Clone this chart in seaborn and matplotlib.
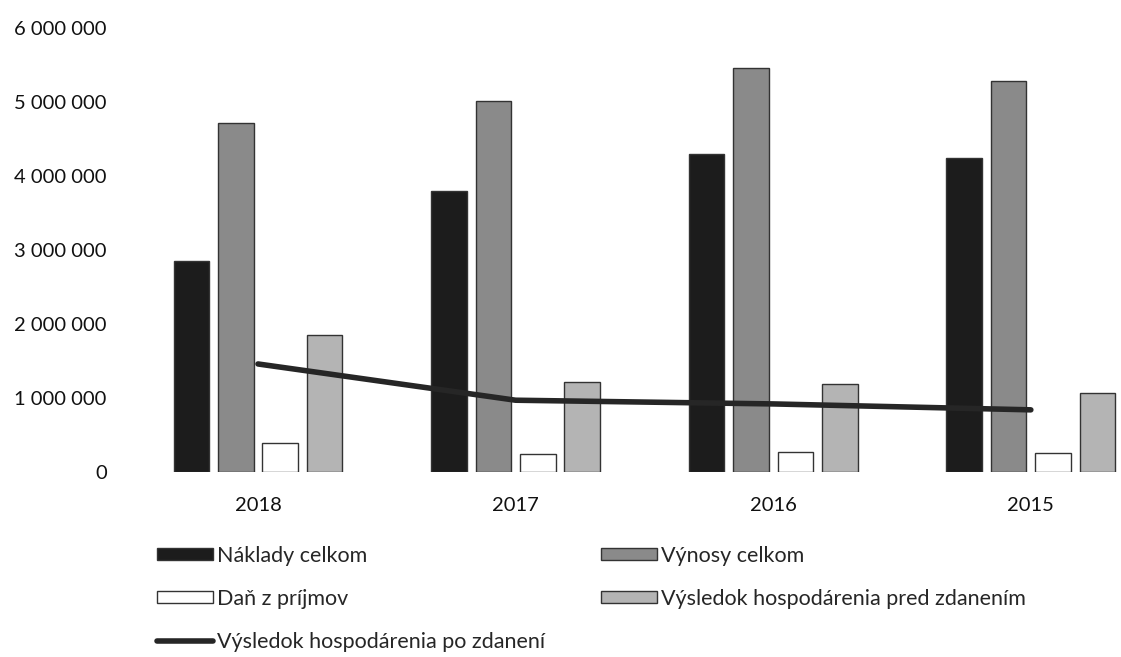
import numpy as np
import pandas as pd
from matplotlib import pyplot as plt
from matplotlib.ticker import FuncFormatter
import seaborn as sns

roky = ['2018', '2017', '2016', '2015']
naklady = [2850000, 3800000, 4300000, 4240000]
vynosy = [4720000, 5010000, 5460000, 5280000]
dan = [390000, 240000, 270000, 260000]
pred_zdanenim = [1850000, 1220000, 1190000, 1070000]
po_zdaneni = [1460000, 970000, 920000, 840000]

nazvy = ['Náklady celkom', 'Výnosy celkom', 'Daň z príjmov',
         'Výsledok hospodárenia pred zdanením']
linia = 'Výsledok hospodárenia po zdanení'

farby = ['#1c1c1c', '#8a8a8a', '#ffffff', '#b4b4b4']

df = pd.DataFrame({
    'rok': roky * 4,
    'hodnota': naklady + vynosy + dan + pred_zdanenim,
    'ukazovatel': [n for n in nazvy for _ in roky],
})

sns.set_theme(style='white')
plt.rcParams['font.family'] = ['Lato', 'DejaVu Sans']

fig = plt.figure(figsize=(11.21, 6.57), dpi=100)
ax = fig.add_axes([140 / 1121, 1 - 472 / 657, (1121 - 140) / 1121, (472 - 28) / 657])

sns.barplot(data=df, x='rok', y='hodnota', hue='ukazovatel', palette=farby,
            width=0.69, gap=0.2, edgecolor='#333333', linewidth=1.0,
            legend=False, ax=ax)
sns.lineplot(x=np.arange(len(roky)), y=po_zdaneni, color='#262626',
             linewidth=4, ax=ax)

ax.set_ylim(0, 6000000)
ax.set_xlim(-0.458, 3.35)
ax.yaxis.set_major_formatter(FuncFormatter(lambda v, p: f'{int(v):,}'.replace(',', ' ')))
ax.set_yticks(np.arange(0, 6000001, 1000000))
ax.set_xlabel('')
ax.set_ylabel('')
ax.tick_params(axis='both', length=0, labelsize=14.5, colors='#111111')
ax.tick_params(axis='y', pad=24)
ax.tick_params(axis='x', pad=18)
for s in ax.spines.values():
    s.set_visible(False)

# legenda pod grafom (poradie tak, aby sa plnila po riadkoch)
handles = [
    plt.Rectangle((0, 0), 1, 1, facecolor=farby[0], edgecolor='#333333'),
    plt.Rectangle((0, 0), 1, 1, facecolor=farby[2], edgecolor='#333333'),
    plt.Line2D([0], [0], color='#262626', linewidth=4),
    plt.Rectangle((0, 0), 1, 1, facecolor=farby[1], edgecolor='#333333'),
    plt.Rectangle((0, 0), 1, 1, facecolor=farby[3], edgecolor='#333333'),
]
labels = [nazvy[0], nazvy[2], linia, nazvy[1], nazvy[3]]
fig.legend(handles, labels, loc='upper left', bbox_to_anchor=(148 / 1121, 1 - 537 / 657),
           ncol=2, frameon=False, fontsize=15.5, handlelength=2.6, handleheight=0.45,
           handletextpad=0.2, labelspacing=1.08, columnspacing=2.6, borderaxespad=0)

fig.savefig('out.png', dpi=100)
